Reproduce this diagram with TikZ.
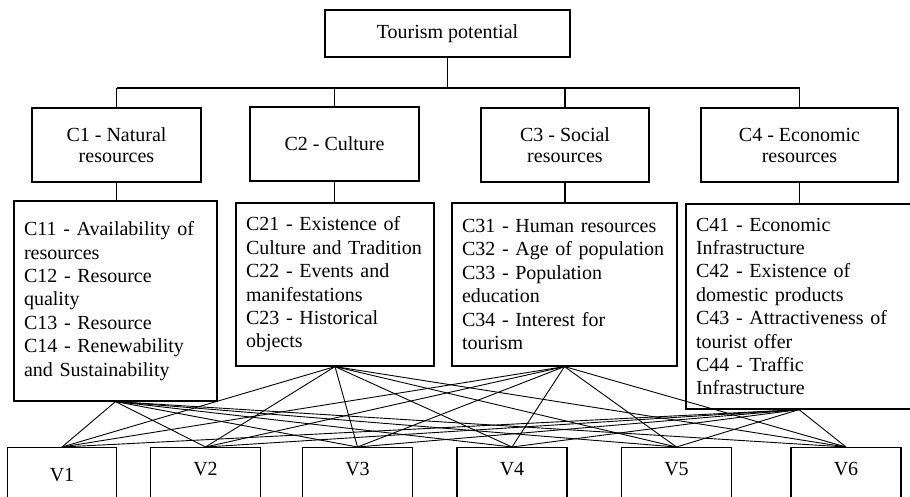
\documentclass[tikz,border=0pt]{standalone}
\usepackage{fontspec}
\setmainfont{Liberation Serif}
\begin{document}
\begin{tikzpicture}[x=1pt,y=-1pt, line width=1.2pt,
  topbox/.style={draw, inner sep=0pt, align=center, minimum height=74pt, font=\fontsize{20}{21}\selectfont},
  listbox/.style={draw, inner xsep=10pt, inner ysep=0pt, align=left, font=\fontsize{20}{23.4}\selectfont},
  vbox/.style={draw, inner sep=0pt, minimum width=110pt, text height=28pt, text depth=35pt, anchor=north, font=\fontsize{20}{24}\selectfont},
  link/.style={line width=0.9pt},
  bus/.style={line width=1.5pt}]

\useasboundingbox (0,0) rectangle (910,497);

\node[topbox, minimum width=245pt, minimum height=47pt] (tp) at (447.5,33.5) {Tourism potential};

\node[topbox, minimum width=169pt] (c1) at (116.5,145) {C1 - Natural\\resources};
\node[topbox, minimum width=169pt] (c2) at (334.5,144) {C2 - Culture};
\node[topbox, minimum width=168pt] (c3) at (565,145) {C3 - Social\\resources};
\node[topbox, minimum width=197pt] (c4) at (799.5,145) {C4 - Economic\\resources};

\node[listbox, text width=183pt, minimum height=200pt] (c11) at (115.5,301)
  {C11 - Availability of\\resources\\C12 - Resource\\quality\\C13 - Resource\\C14 - Renewability\\and Sustainability};
\node[listbox, text width=178pt, minimum height=163pt] (c21) at (335,284.5)
  {C21 - Existence of\\Culture and Tradition\\C22 - Events and\\manifestations\\C23 - Historical\\objects};
\node[listbox, text width=205pt, minimum height=163pt] (c31) at (564.5,284.5)
  {C31 - Human resources\\C32 - Age of population\\C33 - Population\\education\\C34 - Interest for\\tourism};
\node[listbox, text width=206pt, minimum height=205pt] (c41) at (799,306.5)
  {C41 - Economic\\Infrastructure\\C42 - Existence of\\domestic products\\C43 - Attractiveness of\\tourist offer\\C44 - Traffic\\Infrastructure};

\node[vbox, minimum width=109pt, text height=34pt, text depth=29pt] (v1) at (62,447) {V1};
\node[vbox] (v2) at (205.5,447) {V2};
\node[vbox] (v3) at (357.5,447) {V3};
\node[vbox] (v4) at (512,447) {V4};
\node[vbox] (v5) at (676.5,447) {V5};
\node[vbox] (v6) at (846,447) {V6};

\coordinate (busy) at (0,88);
\draw[bus] (tp.south) -- (tp.south |- busy);
\draw[bus] (c1.north |- busy) -- (c4.north |- busy);
\foreach \c in {c1,c2,c3,c4} \draw (\c.north) -- (\c.north |- busy);

\draw (c1.south) -- (c1.south |- c11.north);
\draw (c2.south) -- (c2.south |- c21.north);
\draw (c3.south) -- (c3.south |- c31.north);
\draw (c4.south) -- (c4.south |- c41.north);

\foreach \a in {c11,c21,c31,c41}
  \foreach \b in {v1,v2,v3,v4,v5,v6}
    \draw[link] (\a.south) -- (\b.north);
\end{tikzpicture}
\end{document}
